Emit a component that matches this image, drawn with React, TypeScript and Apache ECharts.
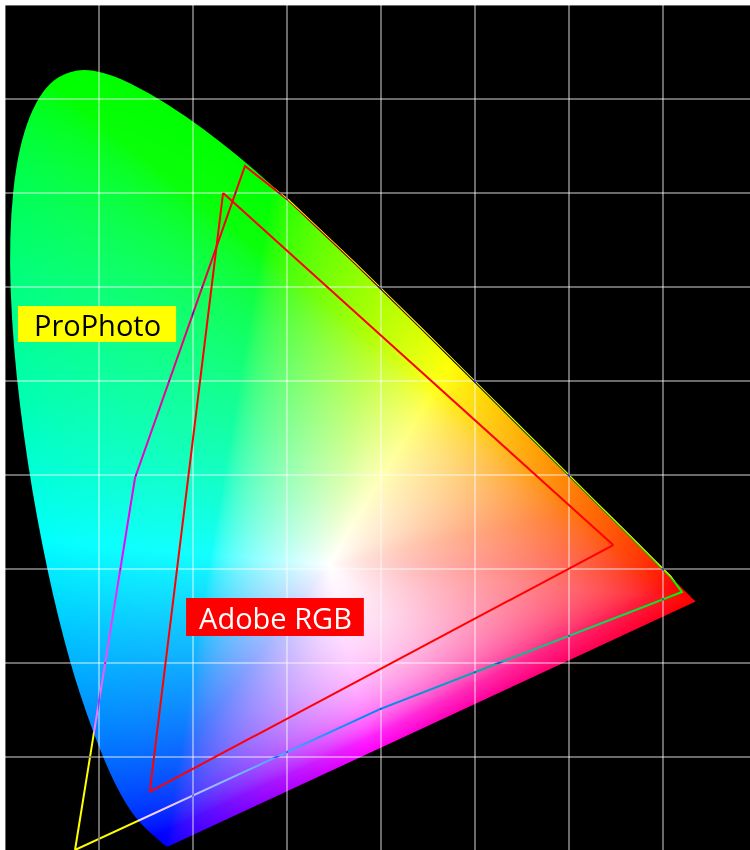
import React, { useEffect, useRef } from "react";
import * as echarts from "echarts";

const X_MAX = 0.8;
const Y_MAX = 0.9;
const TICK = 0.1;

// CIE 1931 spectral locus (chromaticity x, y), 380 nm -> 700 nm
const locusX = [
  0.1741, 0.1738, 0.1733, 0.1726, 0.1714, 0.1703, 0.1689, 0.1669, 0.1644, 0.1611,
  0.1566, 0.151, 0.144, 0.1355, 0.1241, 0.1096, 0.0913, 0.0687, 0.0454, 0.0235,
  0.0082, 0.0039, 0.0139, 0.0389, 0.0743, 0.1142, 0.1547, 0.1929, 0.2296, 0.2658,
  0.3016, 0.3373, 0.3731, 0.4087, 0.4441, 0.4788, 0.5125, 0.5448, 0.5752, 0.6029,
  0.627, 0.6482, 0.6658, 0.6801, 0.6915, 0.7006, 0.7079, 0.714, 0.719, 0.723,
  0.726, 0.73, 0.732, 0.7347,
];
const locusY = [
  0.005, 0.0049, 0.0048, 0.0048, 0.0051, 0.0058, 0.0069, 0.0086, 0.0109, 0.0138,
  0.0177, 0.0227, 0.0297, 0.0399, 0.0578, 0.0868, 0.1327, 0.2007, 0.295, 0.4127,
  0.5384, 0.6548, 0.7502, 0.812, 0.8338, 0.8262, 0.8059, 0.7816, 0.7543, 0.7243,
  0.6923, 0.6589, 0.6245, 0.5896, 0.5547, 0.5202, 0.4866, 0.4544, 0.4242, 0.3965,
  0.3725, 0.3514, 0.334, 0.3197, 0.3083, 0.2993, 0.292, 0.2859, 0.2809, 0.277,
  0.274, 0.27, 0.268, 0.2653,
];

// Adobe RGB gamut triangle as drawn
const adobeX = [0.232, 0.647, 0.154, 0.232];
const adobeY = [0.7, 0.3255, 0.063, 0.7];

// ProPhoto gamut outline as drawn
const proPhotoX = [0.0745, 0.399, 0.7202, 0.7079, 0.6915, 0.6658, 0.627, 0.5752, 0.5125, 0.4441, 0.3731, 0.3016, 0.2553, 0.1383, 0.0745];
const proPhotoY = [0.0011, 0.151, 0.2755, 0.292, 0.3083, 0.334, 0.3725, 0.4242, 0.4866, 0.5547, 0.6245, 0.6923, 0.7287, 0.3968, 0.0011];

const labelNames = ["ProPhoto", "Adobe RGB"];
const labelX = [0.0979, 0.2872];
const labelY = [0.5606, 0.2489];
const labelText = ["#000000", "#ffffff"];
const labelBg = ["#ffff00", "#ff0000"];

// rendering primaries / white used to paint the colour field
const FIELD_PRIMARIES = [
  [0.72, 0.275],
  [0.27, 0.65],
  [0.168, 0.012],
];
const FIELD_WHITE = [0.345, 0.305];

type M3 = number[][];
function inv3(m: M3): M3 {
  const [a, b, c] = m[0];
  const [d, e, f] = m[1];
  const [g, h, i] = m[2];
  const A = e * i - f * h, B = -(d * i - f * g), C = d * h - e * g;
  const det = a * A + b * B + c * C;
  return [
    [A / det, -(b * i - c * h) / det, (b * f - c * e) / det],
    [B / det, (a * i - c * g) / det, -(a * f - c * d) / det],
    [C / det, -(a * h - b * g) / det, (a * e - b * d) / det],
  ];
}
function mul3(m: M3, v: number[]): number[] {
  return [
    m[0][0] * v[0] + m[0][1] * v[1] + m[0][2] * v[2],
    m[1][0] * v[0] + m[1][1] * v[1] + m[1][2] * v[2],
    m[2][0] * v[0] + m[2][1] * v[1] + m[2][2] * v[2],
  ];
}
const xyz = (x: number, y: number) => [x / y, 1, (1 - x - y) / y];
const P: M3 = [0, 1, 2].map((r) => FIELD_PRIMARIES.map((p) => xyz(p[0], p[1])[r]));
const S = mul3(inv3(P), xyz(FIELD_WHITE[0], FIELD_WHITE[1]));
const TO_RGB = inv3(P.map((row) => row.map((v, k) => v * S[k])));

// distance from the white point to the locus boundary, per direction
const N_ANG = 1440;
const boundaryR: number[] = (() => {
  const out: number[] = [];
  const n = locusX.length;
  for (let a = 0; a < N_ANG; a++) {
    const th = (a / N_ANG) * Math.PI * 2 - Math.PI;
    const dx = Math.cos(th), dy = Math.sin(th);
    let best = -1;
    for (let k = 0; k < n; k++) {
      const ax = locusX[k] - FIELD_WHITE[0], ay = locusY[k] - FIELD_WHITE[1];
      const bx = locusX[(k + 1) % n] - FIELD_WHITE[0], by = locusY[(k + 1) % n] - FIELD_WHITE[1];
      const ex = bx - ax, ey = by - ay;
      const den = dx * ey - dy * ex;
      if (Math.abs(den) < 1e-12) continue;
      const t = (ax * ey - ay * ex) / den;
      const u = (ax * dy - ay * dx) / den;
      if (t > 0 && u >= 0 && u <= 1 && (best < 0 || t < best)) best = t;
    }
    out.push(best > 0 ? best : 1);
  }
  return out;
})();

function bump(th: number, centerDeg: number, halfDeg: number): number {
  const c = centerDeg * (Math.PI / 180);
  const half = halfDeg * (Math.PI / 180);
  let d = th - c;
  while (d > Math.PI) d -= 2 * Math.PI;
  while (d < -Math.PI) d += 2 * Math.PI;
  return Math.abs(d) < half ? Math.cos((d / half) * (Math.PI / 2)) : 0;
}
const pastel = (th: number) => 0.08 + 0.62 * bump(th, -58, 70) + 0.3 * bump(th, 40, 40);

function fieldColor(x: number, y: number): [number, number, number] {
  const lin = mul3(TO_RGB, xyz(x, y)).map((v) => Math.max(v, 0));
  const m = Math.max(lin[0], lin[1], lin[2]) || 1;
  const dx = x - FIELD_WHITE[0], dy = y - FIELD_WHITE[1];
  const th = Math.atan2(dy, dx);
  let ai = Math.floor(((th + Math.PI) / (Math.PI * 2)) * N_ANG);
  if (ai >= N_ANG) ai = N_ANG - 1;
  const t = Math.min(Math.hypot(dx, dy) / boundaryR[ai], 1);
  const lift = pastel(th) * (1 - t * t * t);
  const f = (v: number) => {
    const c = Math.max(0, (Math.pow(v / m, 0.45) - 0.15) / 0.85);
    return (c + (1 - c) * lift) * 255;
  };
  return [f(lin[0]), f(lin[1]), f(lin[2])];
}

let fieldCache: { key: string; url: string } | null = null;

function renderField(_params: any, api: any) {
  const p0 = api.coord([0, Y_MAX]);
  const p1 = api.coord([X_MAX, 0]);
  const w = Math.round(p1[0] - p0[0]);
  const h = Math.round(p1[1] - p0[1]);
  const key = `${w}x${h}`;
  if (!fieldCache || fieldCache.key !== key) {
    const canvas = document.createElement("canvas");
    canvas.width = w;
    canvas.height = h;
    const ctx = canvas.getContext("2d")!;
    const img = ctx.createImageData(w, h);
    const d = img.data;
    for (let j = 0; j < h; j++) {
      const y = Y_MAX * (1 - (j + 0.5) / h);
      for (let i = 0; i < w; i++) {
        const x = X_MAX * ((i + 0.5) / w);
        const k = (j * w + i) * 4;
        if (y < 0.003 || y > 0.84 || x > 0.74) {
          d[k + 3] = 0;
          continue;
        }
        const c = fieldColor(x, y);
        d[k] = c[0];
        d[k + 1] = c[1];
        d[k + 2] = c[2];
        d[k + 3] = 255;
      }
    }
    ctx.putImageData(img, 0, 0);
    ctx.globalCompositeOperation = "destination-in";
    const pts = locusX.map((lx, n) => {
      const p = api.coord([lx, locusY[n]]);
      return [p[0] - p0[0], p[1] - p0[1]];
    });
    ctx.beginPath();
    ctx.moveTo(pts[0][0], pts[0][1]);
    for (let n = 1; n < pts.length - 1; n++) {
      const mx = (pts[n][0] + pts[n + 1][0]) / 2;
      const my = (pts[n][1] + pts[n + 1][1]) / 2;
      ctx.quadraticCurveTo(pts[n][0], pts[n][1], mx, my);
    }
    ctx.lineTo(pts[pts.length - 1][0], pts[pts.length - 1][1]);
    ctx.closePath();
    ctx.fillStyle = "#000";
    ctx.fill();
    fieldCache = { key, url: canvas.toDataURL() };
  }
  return {
    type: "image",
    silent: true,
    style: { image: fieldCache.url, x: p0[0], y: p0[1], width: w, height: h },
  };
}

function renderProPhoto(_params: any, api: any) {
  const points = proPhotoX.map((x, i) => api.coord([x, proPhotoY[i]]));
  return {
    type: "polyline",
    silent: true,
    shape: { points },
    style: { stroke: "#ffff01", lineWidth: 2, fill: "none", blend: "difference" },
  };
}

export default function App() {
  const ref = useRef<HTMLDivElement>(null);

  useEffect(() => {
    if (!ref.current) return;
    const chart = echarts.init(ref.current, null, { renderer: "svg" });
    const patch = () => {
      const root = ref.current;
      if (!root) return;
      root.querySelectorAll("[stroke]").forEach((el) => {
        const s = (el.getAttribute("stroke") || "").replace(/\s/g, "").toLowerCase();
        if (s === "#ffff01" || s === "rgb(255,255,1)") {
          (el as SVGElement).style.mixBlendMode = "difference";
        }
      });
    };
    chart.on("finished", patch);

    const axisCommon = {
      type: "value" as const,
      min: 0,
      interval: TICK,
      z: 3,
      axisLine: { show: false },
      axisTick: { show: false },
      axisLabel: { show: false },
      splitLine: { show: true, lineStyle: { color: "rgba(255,255,255,0.42)", width: 2 } },
    };

    chart.setOption({
      animation: false,
      backgroundColor: "#ffffff",
      grid: {
        left: 5,
        top: 5,
        width: 752,
        height: 846,
        show: true,
        backgroundColor: "#000000",
        borderWidth: 0,
        containLabel: false,
        outerBoundsMode: "none",
      },
      xAxis: { ...axisCommon, max: X_MAX },
      yAxis: { ...axisCommon, max: Y_MAX },
      series: [
        {
          type: "custom",
          z: 1,
          silent: true,
          clip: false,
          data: [[0, 0]],
          renderItem: renderField,
        },
        {
          type: "line",
          z: 4,
          silent: true,
          symbol: "none",
          data: adobeX.map((x, i) => [x, adobeY[i]]),
          lineStyle: { color: "#ff0000", width: 2 },
        },
        {
          type: "custom",
          z: 4,
          silent: true,
          clip: false,
          data: [[0, 0]],
          renderItem: renderProPhoto,
        },
        {
          type: "scatter",
          z: 6,
          silent: true,
          symbolSize: 1,
          itemStyle: { color: "rgba(0,0,0,0)", opacity: 1 },
          data: labelNames.map((name, i) => ({
            name,
            value: [labelX[i], labelY[i]],
            label: {
              show: true,
              position: "inside",
              formatter: name,
              color: labelText[i],
              backgroundColor: labelBg[i],
              fontFamily: "Open Sans",
              fontSize: 29,
              lineHeight: 30,
              padding: i === 0 ? [3, 15, 3, 16] : [4, 12, 4, 13],
            },
          })),
        },
      ],
    });
    patch();
    const t = setTimeout(patch, 60);
    const t2 = setTimeout(patch, 300);

    return () => {
      clearTimeout(t);
      clearTimeout(t2);
      chart.dispose();
    };
  }, []);

  return (
    <div
      ref={ref}
      style={{ position: "fixed", left: 0, top: 0, width: 750, height: 850, overflow: "hidden" }}
    />
  );
}
